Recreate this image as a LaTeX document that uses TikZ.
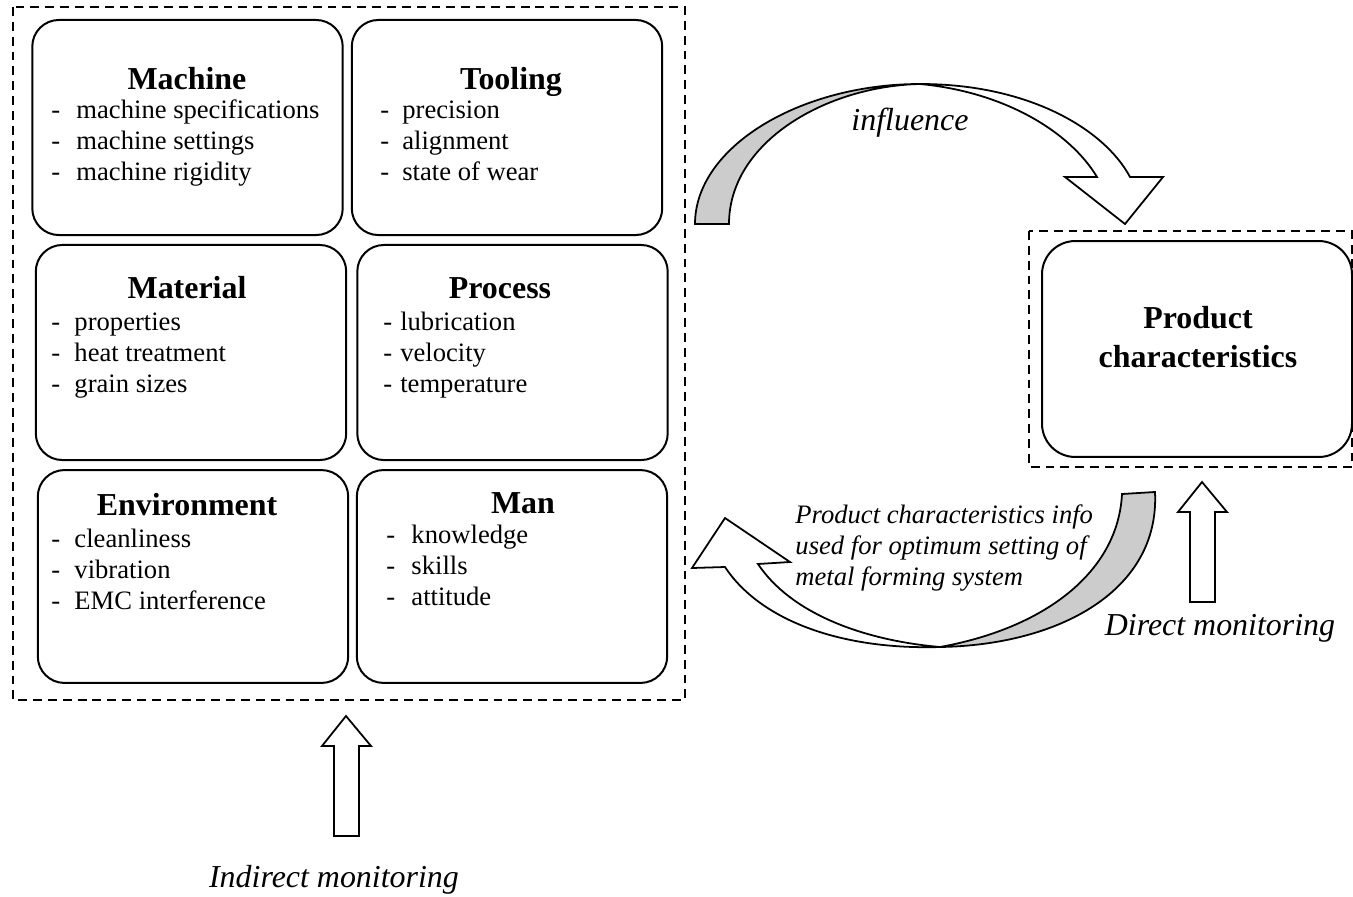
\documentclass[tikz,border=0pt]{standalone}
\usepackage{fontspec}
\setmainfont{Liberation Serif}
\usetikzlibrary{calc}

\newcommand{\hy}[1]{-\hspace{#1}}

\begin{document}
\begin{tikzpicture}[x=0.451pt,y=-0.451pt,
  box/.style={draw, line width=0.9pt, rounded corners=12pt, minimum width=140pt, minimum height=97pt, inner sep=0pt},
  frame/.style={draw, line width=0.9pt, dash pattern=on 4pt off 2.7pt},
  head/.style={font=\fontsize{14.4}{16.5}\selectfont\bfseries, anchor=base, inner sep=0pt},
  items/.style={font=\fontsize{12}{14}\selectfont, align=left, anchor=north west, inner sep=0pt},
  lbl/.style={font=\fontsize{14.4}{17}\selectfont\itshape, anchor=base, inner sep=0pt},
  bigarrow/.style={draw, line width=0.8pt, fill=white},
  backside/.style={draw, line width=0.8pt, fill=gray!40}]
  \useasboundingbox (0,0) rectangle (1353,897);
	% the metal forming system
	\draw[frame] (13,7) rectangle (685,700);
	\node[box] (machine) at (187.5,127.5) {};
	\node[box] (tooling) at (507,127.5) {};
	\node[box] (material) at (191,352.5) {};
	\node[box] (process) at (512.5,352.5) {};
	\node[box, minimum height=96pt] (environment) at (193,576.5) {};
	\node[box, minimum height=96pt] (man) at (512,576.5) {};
	\node[head] (machineH) at (187,89) {Machine};
	\node[head] (toolingH) at (511,89) {Tooling};
	\node[head] (materialH) at (187,298) {Material};
	\node[head] (processH) at (500,298) {Process};
	\node[head] (environmentH) at (187,515) {Environment};
	\node[head] (manH) at (523,513) {Man};
	\node[items] (machineL) at (51,96) {\strut\hy{7.3pt}machine specifications\\\hy{7.3pt}machine settings\\\hy{7.3pt}machine rigidity};
	\node[items] (toolingL) at (380,96) {\strut\hy{5.9pt}precision\\\hy{5.9pt}alignment\\\hy{5.9pt}state of wear};
	\node[items] (materialL) at (51,308) {\strut\hy{6.4pt}properties\\\hy{6.4pt}heat treatment\\\hy{6.4pt}grain sizes};
	\node[items] (processL) at (383,308) {\strut\hy{3.6pt}lubrication\\\hy{3.6pt}velocity\\\hy{3.6pt}temperature};
	\node[items] (environmentL) at (51,525) {\strut\hy{6.4pt}cleanliness\\\hy{6.4pt}vibration\\\hy{6.4pt}EMC interference};
	\node[items] (manL) at (386,521) {\strut\hy{7.3pt}knowledge\\\hy{7.3pt}skills\\\hy{7.3pt}attitude};
	% the product
	\draw[frame] (1029,231) rectangle (1352,467);
	\node[box, minimum width=139.8pt, minimum height=97.4pt, rounded corners=15pt] (product) at (1197,349) {};
	\node[font=\fontsize{14.4}{17.6}\selectfont\bfseries, align=center, anchor=north, inner sep=0pt] (productT) at (1198,301) {\strut Product\\characteristics};
	% influence arrow
	\draw[backside] (695,224) .. controls (695,147) and (800,84) .. (920,84) .. controls (826,86) and (729,142) .. (729,224) -- cycle;
	\draw[bigarrow] (920,84) .. controls (1030,84) and (1105,130) .. (1130,177) -- (1163,177) -- (1125,224) -- (1065,177) -- (1097,177) .. controls (1070,132) and (1005,92) .. (920,84) -- cycle;
	\node[lbl] (influence) at (910,130) {influence};
	% feedback arrow
	\draw[backside] (1155,492) .. controls (1160,590) and (1060,645) .. (940,647) .. controls (1045,628) and (1118,572) .. (1122,494) -- cycle;
	\draw[bigarrow] (940,647) .. controls (840,650) and (760,620) .. (725,567) -- (692,568) -- (725,518) -- (790,562) -- (758,564) .. controls (790,612) and (860,640) .. (940,647) -- cycle;
	\node[font=\fontsize{12}{14}\selectfont\itshape, align=left, anchor=north west, inner sep=0pt] (feedback) at (795,501) {\strut Product characteristics info\\used for optimum setting of\\metal forming system};
	% monitoring arrows
	\coordinate (direct) at (1202,482);
	\coordinate (indirect) at (346,716);
	\draw[bigarrow] (direct) -- ++(25,30) -- ++(-12,0) -- ++(0,90) -- ++(-25,0) -- ++(0,-90) -- ++(-12,0) -- cycle;
	\draw[bigarrow] (indirect) -- ++(25,30) -- ++(-12,0) -- ++(0,90) -- ++(-25,0) -- ++(0,-90) -- ++(-12,0) -- cycle;
	\node[lbl] (directL) at (1220,635) {Direct monitoring};
	\node[lbl] (indirectL) at (334,887) {Indirect monitoring};
\end{tikzpicture}
\end{document}
